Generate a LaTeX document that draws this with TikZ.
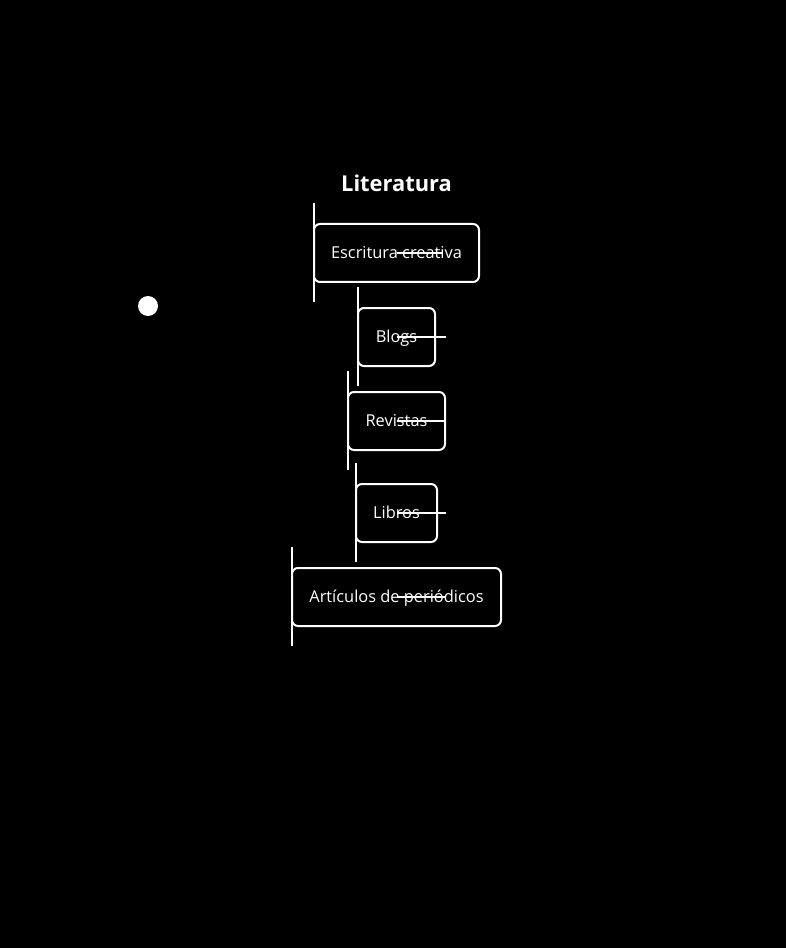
\documentclass[tikz,border=0pt]{standalone}
\usepackage{fontspec}
\setmainfont{Open Sans}
\usepackage{tikz}
\usetikzlibrary{calc}

\tikzset{
  topic/.style={draw=white, line width=1.5pt, rounded corners=4.5pt, fill=black,
    text=white, minimum height=43.5pt, inner sep=0pt, outer sep=0pt,
    text height=11pt, text depth=2.6pt, font=\fontsize{12.3}{14}\selectfont},
  tick/.style={draw=white, line width=1.5pt}
}

\begin{document}
\begin{tikzpicture}[x=0.75pt, y=-0.75pt]
        \fill[black] (0, 0) rectangle (786, 948);
        \useasboundingbox (0, 0) rectangle (786, 948);

        \node[text=white, font=\fontsize{16.4}{19}\selectfont\bfseries] (title) at (396.5, 183) {Literatura};

        \node[topic, minimum width=123.75pt] (esc) at (396.5, 253) {Escritura creativa};
        \node[topic, minimum width=57.75pt] (blogs) at (396.5, 337) {Blogs};
        \node[topic, minimum width=72.75pt] (rev) at (396.5, 421) {Revistas};
        \node[topic, minimum width=60.75pt] (lib) at (396.5, 513) {Libros};
        \node[topic, minimum width=156.75pt] (art) at (396.5, 597) {Artículos de periódicos};

        % left ticks
        \draw[tick] (esc.west) ++(0, -50) -- ++(0, 99);
        \draw[tick] (blogs.west) ++(0, -50) -- ++(0, 99);
        \draw[tick] (rev.west) ++(0, -50) -- ++(0, 99);
        \draw[tick] (lib.west) ++(0, -50) -- ++(0, 99);
        \draw[tick] (art.west) ++(0, -50) -- ++(0, 99);

        % strokes through the labels
        \draw[tick] (esc.center) -- ++(45, 0);
        \draw[tick] (blogs.center) -- ++(49.5, 0);
        \draw[tick] (rev.center) -- ++(48.5, 0);
        \draw[tick] (lib.center) -- ++(49.5, 0);
        \draw[tick] (art.center) -- ++(49, 0);

        \node[circle, fill=white, minimum size=15pt, inner sep=0pt] (dot) at (148, 306) {};
\end{tikzpicture}
\end{document}
